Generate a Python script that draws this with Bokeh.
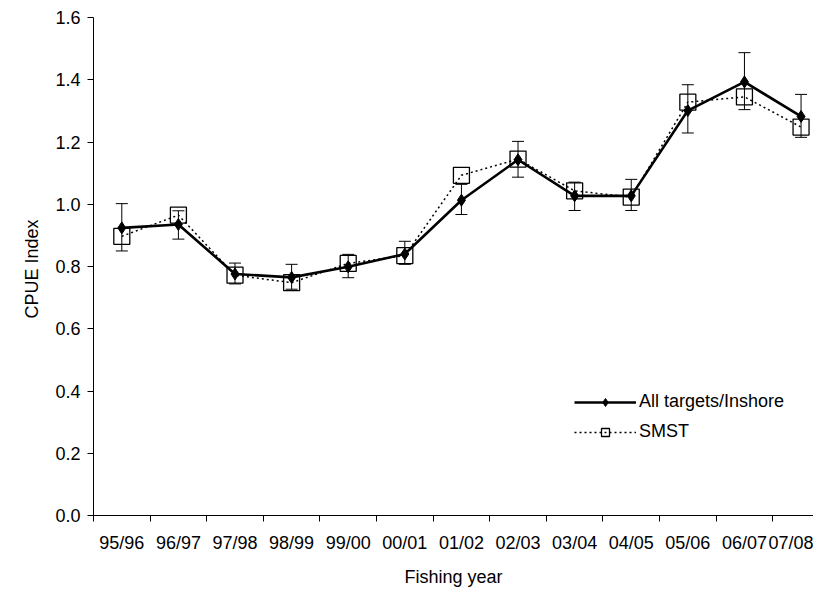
from bokeh.plotting import figure
from bokeh.models import (ColumnDataSource, Whisker, TeeHead, FixedTicker, Legend, LegendItem,
                          NumeralTickFormatter)
from bokeh.embed import file_html
from bokeh.resources import INLINE

years = ["95/96", "96/97", "97/98", "98/99", "99/00", "00/01", "01/02",
         "02/03", "03/04", "04/05", "05/06", "06/07", "07/08"]
all_targets = [0.924, 0.935, 0.776, 0.765, 0.799, 0.840, 1.013, 1.143, 1.027, 1.027, 1.301, 1.393, 1.282]
all_upper = [1.002, 0.979, 0.811, 0.807, 0.839, 0.881, 1.064, 1.202, 1.071, 1.080, 1.384, 1.487, 1.353]
all_lower = [0.850, 0.888, 0.744, 0.727, 0.764, 0.807, 0.967, 1.087, 0.980, 0.980, 1.229, 1.304, 1.215]
smst = [0.897, 0.965, 0.772, 0.748, 0.810, 0.835, 1.093, 1.145, 1.043, 1.023, 1.328, 1.345, 1.248]

xs = [i + 1 for i in range(len(years))]
src = ColumnDataSource(dict(x=xs, a=all_targets, up=all_upper, lo=all_lower, s=smst))

FONT = "Liberation Sans"

p = figure(width=813, height=589, output_backend="svg", toolbar_location=None,
           x_range=(0.5, 13.22), y_range=(0, 1.6),
           min_border_left=93, min_border_right=0, min_border_top=17, min_border_bottom=73)
p.outline_line_color = None
p.xgrid.visible = False
p.ygrid.visible = False
p.background_fill_color = "white"
p.border_fill_color = "white"

# error bars
wh = Whisker(source=src, base="x", upper="up", lower="lo", line_color="black", line_width=1,
             upper_head=TeeHead(size=12, line_color="black", line_width=1),
             lower_head=TeeHead(size=12, line_color="black", line_width=1))
p.add_layout(wh)

l2 = p.line("x", "s", source=src, line_color="black", line_width=1.5, line_dash="2 3")
s2 = p.scatter("x", "s", source=src, marker="square", size=16, fill_color=None,
               line_color="black", line_width=1.3)
l1 = p.line("x", "a", source=src, line_color="black", line_width=2.6)
s1 = p.scatter("x", "a", source=src, marker="diamond", size=12, fill_color="black",
               line_color="black", line_width=1)

# axes
xa = p.xaxis[0]
xa.ticker = FixedTicker(ticks=xs, minor_ticks=[x - 0.5 for x in xs] + [xs[-1] + 0.5])
xa.major_label_overrides = {x: y for x, y in zip(xs, years)}
xa.major_tick_out = 0
xa.major_tick_in = 0
xa.minor_tick_out = 6
xa.minor_tick_in = 0
xa.minor_tick_line_color = "black"
xa.axis_label = "Fishing year"
xa.major_label_standoff = 11
xa.axis_label_standoff = 11

ya = p.yaxis[0]
ya.ticker = FixedTicker(ticks=[0, 0.2, 0.4, 0.6, 0.8, 1.0, 1.2, 1.4, 1.6], minor_ticks=[])
ya.formatter = NumeralTickFormatter(format="0.0")
ya.major_tick_out = 6
ya.major_tick_in = 0
ya.minor_tick_out = 0
ya.minor_tick_in = 0
ya.axis_label = "CPUE  Index"
ya.major_label_standoff = 7
ya.axis_label_standoff = 10

for ax in (xa, ya):
    ax.axis_line_color = "black"
    ax.axis_line_width = 1
    ax.major_tick_line_color = "black"
    ax.major_label_text_font = FONT
    ax.major_label_text_font_size = "18px"
    ax.major_label_text_color = "black"
    ax.axis_label_text_font = FONT
    ax.axis_label_text_font_size = "18px"
    ax.axis_label_text_font_style = "normal"
    ax.axis_label_text_color = "black"

legend = Legend(items=[LegendItem(label="All targets/Inshore", renderers=[l1, s1]),
                       LegendItem(label="SMST", renderers=[l2, s2])],
                location=(481, 73), orientation="vertical",
                glyph_width=62, glyph_height=20, label_height=20, label_standoff=3,
                spacing=9, padding=0, margin=0,
                border_line_color=None, background_fill_alpha=0,
                label_text_font=FONT, label_text_font_size="18px", label_text_color="black")
p.add_layout(legend)

open("out.html", "w").write(file_html(p, INLINE))
